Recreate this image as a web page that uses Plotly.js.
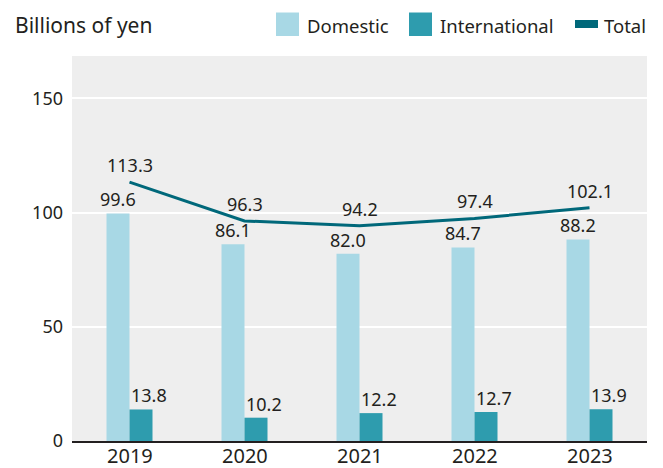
<!DOCTYPE html>
<html><head><meta charset="utf-8">
<script src="https://cdn.plot.ly/plotly-3.0.1.min.js"></script>
<style>body{margin:0;background:#fff}#chart{width:663px;height:468px}</style>
</head><body><div id="chart"></div>
<script>
const years = ['2019','2020','2021','2022','2023'];
const domestic = [99.6, 86.1, 82.0, 84.7, 88.2];
const international = [13.8, 10.2, 12.2, 12.7, 13.9];
const total = [113.3, 96.3, 94.2, 97.4, 102.1];
const yTicks = [0, 50, 100, 150];

const FONT = 'Noto Sans, sans-serif';
const TXT = '#231f20';
const C_DOM = '#a8d8e5';
const C_INT = '#2e9cae';
const C_TOT = '#00687a';

const traces = [
  {type:'bar', x:years, y:domestic, marker:{color:C_DOM}, name:'Domestic', hoverinfo:'skip'},
  {type:'bar', x:years, y:international, marker:{color:C_INT}, name:'International', hoverinfo:'skip'},
  {type:'scatter', mode:'lines', x:years, y:total, line:{color:C_TOT, width:3}, name:'Total', hoverinfo:'skip'}
];

const W = 663, H = 468, L = 72, R = 16, T = 56, B = 27;
const pw = W - L - R, ph = H - T - B;
const px = v => (v - L) / pw;
const py = v => (H - B - v) / ph;

const ann = [];
const lbl = (i, v, xs, ys) => ann.push({x:i, y:v, xref:'x', yref:'y', text:v.toFixed(1), showarrow:false,
  xanchor:'center', yanchor:'bottom', xshift:xs, yshift:ys, font:{family:FONT, size:18, color:TXT}});
domestic.forEach((v,i)=>lbl(i, v, -11.5, 0));
international.forEach((v,i)=>lbl(i, v, 19, 0));
total.forEach((v,i)=>lbl(i, v, 0, 3));

// x tick labels
years.forEach((y,i)=>ann.push({x:i, y:py(456), xref:'x', yref:'paper', text:y, showarrow:false, borderpad:0,
  xanchor:'center', yanchor:'middle', font:{family:FONT, size:20, color:TXT}}));

// title & legend
ann.push({x:px(13), y:py(25), xref:'paper', yref:'paper', text:'Billions of yen', showarrow:false,
  xanchor:'left', yanchor:'middle', font:{family:FONT, size:21, color:TXT}});
const legendItems = [
  {name:'Domestic', tx:305},
  {name:'International', tx:438},
  {name:'Total', tx:602}
];
legendItems.forEach(it => ann.push({x:px(it.tx), y:py(25), xref:'paper', yref:'paper', text:it.name, showarrow:false,
  xanchor:'left', yanchor:'middle', font:{family:FONT, size:18.5, color:TXT}}));
const shapes = [
  {type:'rect', xref:'paper', yref:'paper', x0:px(276), x1:px(299), y0:py(36), y1:py(12.5), fillcolor:C_DOM, line:{width:0}},
  {type:'rect', xref:'paper', yref:'paper', x0:px(409), x1:px(432), y0:py(36), y1:py(12.5), fillcolor:C_INT, line:{width:0}},
  {type:'rect', xref:'paper', yref:'paper', x0:px(575), x1:px(598), y0:py(28), y1:py(20), fillcolor:C_TOT, line:{width:0}}
];

const layout = {
  width:W, height:H, margin:{l:L, r:R, t:T, b:B, pad:0},
  paper_bgcolor:'#ffffff', plot_bgcolor:'#eeeeee',
  barmode:'group', bargap:0.6, bargroupgap:0,
  showlegend:false,
  font:{family:FONT, color:TXT},
  xaxis:{type:'category', showgrid:false, showline:true, linecolor:TXT, linewidth:2, ticks:'',
    showticklabels:false, fixedrange:true},
  yaxis:{range:[0,168.5], tickvals:yTicks, ticktext:yTicks.map(String), showgrid:true, gridcolor:'#ffffff', gridwidth:2,
    zeroline:false, showline:false, ticks:'', tickfont:{family:FONT, size:18, color:TXT}, ticklabelstandoff:8, fixedrange:true},
  annotations:ann, shapes:shapes
};
Plotly.newPlot('chart', traces, layout, {staticPlot:true, displayModeBar:false});
</script></body></html>
